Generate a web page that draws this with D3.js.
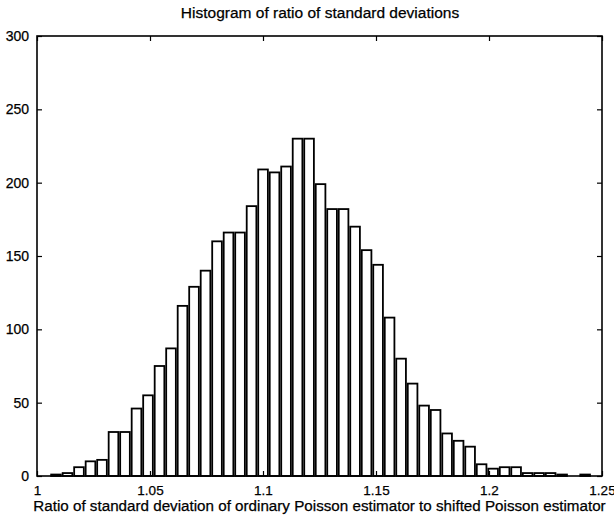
<!DOCTYPE html>
<html>
<head>
<meta charset="utf-8">
<script src="https://cdn.jsdelivr.net/npm/d3@7"></script>
<style>
  html, body { margin: 0; padding: 0; background: #fff; }
  svg { display: block; }
  text { font-family: "Liberation Sans", Arial, Helvetica, sans-serif; fill: #000; stroke: #000; stroke-width: 0.25; }
</style>
</head>
<body>
<svg id="chart" width="614" height="516"></svg>
<script>
// ---- data ----
const title = "Histogram of ratio of standard deviations";
const xLabel = "Ratio of standard deviation of ordinary Poisson estimator to shifted Poisson estimator";
const firstBinCenter = 1.0084;
const binWidth = 0.00509;
const counts = [1, 2, 6, 10, 11, 30, 30, 46, 55, 75, 87, 116, 129, 140, 160, 166, 166, 184,
  209, 207, 211, 230, 230, 199, 182, 182, 170, 154, 144, 108, 80, 63, 48, 45, 29, 24, 20,
  8, 5, 6, 6, 2, 2, 2, 1, 0, 1];
const xTicks = [1, 1.05, 1.1, 1.15, 1.2, 1.25];
const xTickLabels = ["1", "1.05", "1.1", "1.15", "1.2", "1.25"];
const yTicks = [0, 50, 100, 150, 200, 250, 300];

// ---- layout ----
const svg = d3.select("#chart");
const mLeft = 37, mRight = 602, mTop = 36, mBottom = 476;
const x = d3.scaleLinear().domain([1, 1.25]).range([mLeft, mRight]);
const y = d3.scaleLinear().domain([0, 300]).range([mBottom, mTop]);
const tickLen = 5;

const bins = counts.map((c, i) => ({ center: firstBinCenter + i * binWidth, count: c }));
const barW = (x(binWidth) - x(0)) * 0.84;

// bars
svg.append("g").selectAll("rect").data(bins.filter(d => d.count > 0)).join("rect")
  .attr("x", d => x(d.center) - barW / 2)
  .attr("y", d => y(d.count))
  .attr("width", barW)
  .attr("height", d => y(0) - y(d.count))
  .attr("fill", "#fff")
  .attr("stroke", "#000")
  .attr("stroke-width", 1.8);

// axes (MATLAB style: ticks inward, on all four sides)
const gB = svg.append("g").attr("transform", `translate(0,${mBottom})`)
  .call(d3.axisBottom(x).tickValues(xTicks).tickSizeInner(-tickLen).tickSizeOuter(0)
    .tickFormat((d, i) => xTickLabels[i]));
gB.selectAll("text").attr("dy", null).attr("y", 19).attr("font-size", 13.5);
const gT = svg.append("g").attr("transform", `translate(0,${mTop})`)
  .call(d3.axisTop(x).tickValues(xTicks).tickSizeInner(-tickLen).tickSizeOuter(0).tickFormat(""));
const gL = svg.append("g").attr("transform", `translate(${mLeft},0)`)
  .call(d3.axisLeft(y).tickValues(yTicks).tickSizeInner(-tickLen).tickSizeOuter(0));
gL.selectAll("text").attr("x", -8).attr("font-size", 14);
const gR = svg.append("g").attr("transform", `translate(${mRight},0)`)
  .call(d3.axisRight(y).tickValues(yTicks).tickSizeInner(-tickLen).tickSizeOuter(0).tickFormat(""));
[gB, gT, gL, gR].forEach(g => {
  g.select(".domain").remove();
  g.selectAll("line").attr("stroke", "#000").attr("stroke-width", 1.2);
  g.attr("font-family", null);
});

// frame
svg.append("rect")
  .attr("x", mLeft).attr("y", mTop)
  .attr("width", mRight - mLeft).attr("height", mBottom - mTop)
  .attr("fill", "none").attr("stroke", "#000").attr("stroke-width", 1.6);

// title & label
svg.append("text").attr("x", 320).attr("y", 18)
  .attr("text-anchor", "middle").attr("font-size", 15.5).text(title);
svg.append("text").attr("x", 319.5).attr("y", 511)
  .attr("text-anchor", "middle").attr("font-size", 15.2).text(xLabel);
</script>
</body>
</html>
